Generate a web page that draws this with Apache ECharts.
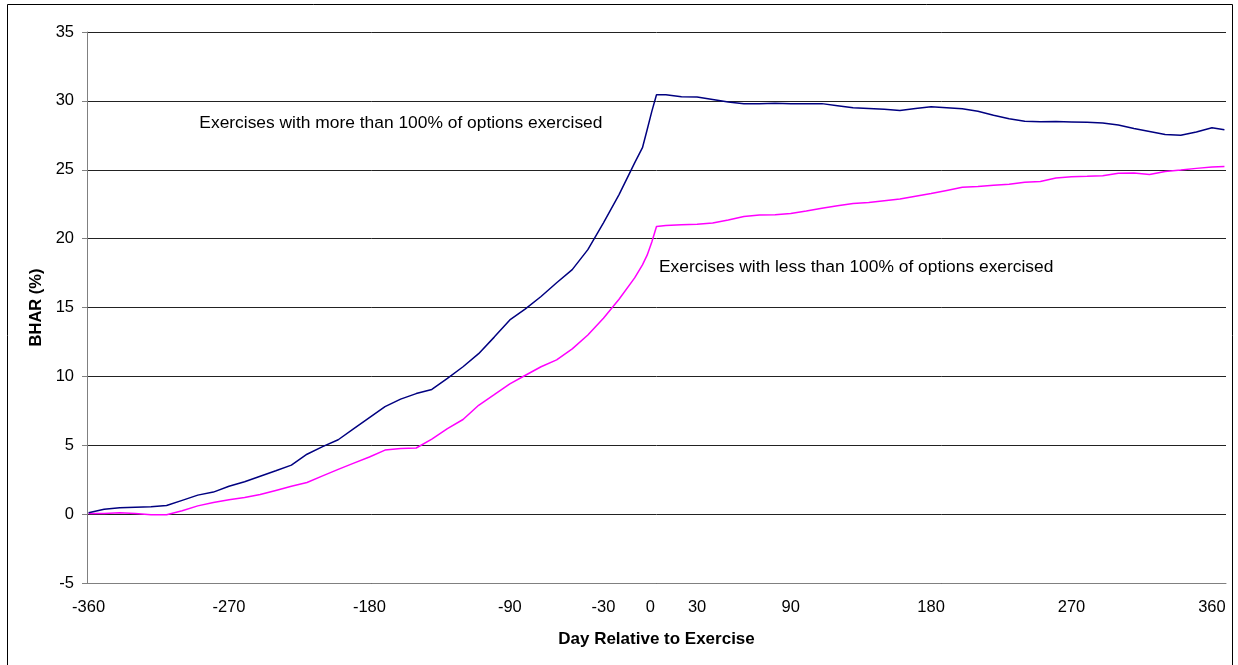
<!DOCTYPE html>
<html>
<head>
<meta charset="utf-8">
<title>BHAR around exercise</title>
<script src="https://cdn.jsdelivr.net/npm/echarts@6/dist/echarts.min.js"></script>
<style>
  html, body { margin: 0; padding: 0; background: #fff; }
  #chart { width: 1238px; height: 665px; }
</style>
</head>
<body>
<div id="chart"></div>
<script>
// Event-time axis (days relative to exercise)
const days = [
  -360, -350, -340, -330, -320, -310, -300, -290, -280, -270,
  -260, -250, -240, -230, -220, -210, -200, -190, -180, -170,
  -160, -150, -140, -130, -120, -110, -100, -90, -80, -70,
  -60, -50, -40, -30, -20, -10, -5, -2, 1, 4,
  10, 20, 30, 40, 50, 60, 70, 80, 90, 100,
  110, 120, 130, 140, 150, 160, 170, 180, 190, 200,
  210, 220, 230, 240, 250, 260, 270, 280, 290, 300,
  310, 320, 330, 340, 350, 360, 368
];

// Buy-and-hold abnormal return (%), more than 100% of options exercised
const bharMore = [
  0.1, 0.35, 0.46, 0.5, 0.53, 0.62, 1.0, 1.38, 1.6, 2.02,
  2.35, 2.75, 3.15, 3.56, 4.35, 4.9, 5.4, 6.2, 7.0, 7.8,
  8.35, 8.75, 9.05, 9.85, 10.7, 11.65, 12.85, 14.1, 14.9, 15.8,
  16.8, 17.75, 19.2, 21.15, 23.2, 25.5, 26.6, 27.9, 29.24, 30.45,
  30.45, 30.3, 30.28, 30.1, 29.92, 29.8, 29.8, 29.82, 29.8, 29.8,
  29.8, 29.65, 29.5, 29.45, 29.4, 29.3, 29.45, 29.58, 29.5, 29.42,
  29.24, 28.95, 28.7, 28.52, 28.48, 28.5, 28.47, 28.44, 28.4, 28.25,
  28.0, 27.78, 27.56, 27.5, 27.74, 28.05, 27.9
];

// Buy-and-hold abnormal return (%), less than 100% of options exercised
const bharLess = [
  0.05, 0.05, 0.1, 0.05, -0.05, -0.05, 0.25, 0.6, 0.85, 1.05,
  1.2, 1.42, 1.72, 2.02, 2.3, 2.78, 3.25, 3.7, 4.15, 4.65,
  4.77, 4.8, 5.45, 6.2, 6.87, 7.9, 8.67, 9.45, 10.08, 10.7,
  11.2, 12.0, 13.0, 14.22, 15.6, 17.15, 18.1, 18.8, 19.75, 20.88,
  20.95, 21.0, 21.05, 21.14, 21.35, 21.61, 21.72, 21.74, 21.82, 22.0,
  22.2, 22.38, 22.55, 22.63, 22.75, 22.87, 23.07, 23.27, 23.5, 23.73,
  23.79, 23.87, 23.94, 24.1, 24.15, 24.4, 24.5, 24.52, 24.56, 24.74,
  24.76, 24.66, 24.88, 24.98, 25.1, 25.2, 25.24
];

const xTickLabels = [-360, -270, -180, -90, -30, 0, 30, 90, 180, 270, 360];

const seriesNames = [
  'Exercises with more than 100% of options exercised',
  'Exercises with less than 100% of options exercised'
];

// Where each series label sits, in data coordinates [day, BHAR]
const labelAnchors = [[-289, 28.35], [5.6, 17.9]];

const FONT = '"Liberation Sans", Arial, sans-serif';

const chart = echarts.init(document.getElementById('chart'), null, { renderer: 'canvas' });

const option = {
  animation: false,
  backgroundColor: '#ffffff',
  grid: { left: 87, right: 12, top: 32, bottom: 82, containLabel: false },
  xAxis: {
    type: 'value',
    min: -361,
    max: 369,
    name: 'Day Relative to Exercise',
    nameLocation: 'middle',
    nameGap: 48,
    nameTextStyle: { fontFamily: FONT, fontSize: 17, fontWeight: 'bold', color: '#000' },
    axisLine: { show: true, onZero: false, lineStyle: { color: '#808080', width: 1 } },
    axisTick: { show: false },
    splitLine: { show: false },
    axisLabel: {
      customValues: xTickLabels,
      margin: 16,
      fontFamily: FONT,
      fontSize: 16.5,
      color: '#000'
    }
  },
  yAxis: {
    type: 'value',
    min: -5,
    max: 35,
    interval: 5,
    name: 'BHAR (%)',
    nameLocation: 'middle',
    nameGap: 41,
    nameTextStyle: { fontFamily: FONT, fontSize: 16.5, fontWeight: 'bold', color: '#000' },
    axisLine: { show: true, onZero: false, lineStyle: { color: '#808080', width: 1 } },
    axisTick: { show: true, length: 5, lineStyle: { color: '#808080' } },
    splitLine: { show: true, lineStyle: { color: '#222', width: 1 } },
    axisLabel: { margin: 13, fontFamily: FONT, fontSize: 16.5, color: '#000' }
  },
  series: [
    {
      name: seriesNames[0],
      type: 'line',
      data: days.map((d, i) => [d, bharMore[i]]),
      showSymbol: false,
      lineStyle: { color: '#000080', width: 1.5 },
      itemStyle: { color: '#000080' },
      z: 3
    },
    {
      name: seriesNames[1],
      type: 'line',
      data: days.map((d, i) => [d, bharLess[i]]),
      showSymbol: false,
      lineStyle: { color: '#ff00ff', width: 1.5 },
      itemStyle: { color: '#ff00ff' },
      z: 2
    }
  ]
};

chart.setOption(option);

// Series labels and the outer frame
const graphics = [
  {
    type: 'rect',
    shape: { x: 7.5, y: 4.5, width: 1225, height: 700 },
    style: { fill: null, stroke: '#000', lineWidth: 1 },
    silent: true,
    z: 10
  }
];
labelAnchors.forEach((anchor, i) => {
  const p = chart.convertToPixel({ gridIndex: 0 }, anchor);
  graphics.push({
    type: 'text',
    x: p[0],
    y: p[1],
    style: {
      text: seriesNames[i],
      font: '17.4px ' + FONT,
      fill: '#000',
      textAlign: 'left',
      textVerticalAlign: 'middle'
    },
    z: 10
  });
});
chart.setOption({ graphic: graphics });
</script>
</body>
</html>
